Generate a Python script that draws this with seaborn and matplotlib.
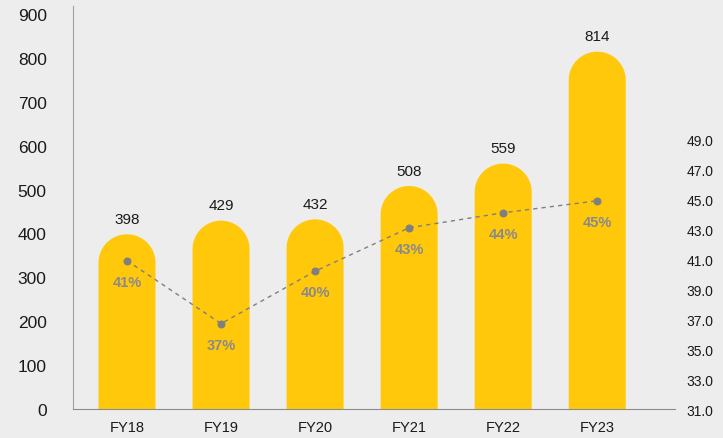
import numpy as np
import pandas as pd
import matplotlib.pyplot as plt
import seaborn as sns
from matplotlib.patches import Polygon

years = ["FY18", "FY19", "FY20", "FY21", "FY22", "FY23"]
revenue = [398, 429, 432, 508, 559, 814]
margin = [40.9, 36.7, 40.2, 43.1, 44.1, 44.9]
margin_labels = ["41%", "37%", "40%", "43%", "44%", "45%"]

df = pd.DataFrame({"year": years, "revenue": revenue, "margin": margin})

sns.set_style("white")
plt.rcParams['font.family'] = ['Liberation Sans', 'DejaVu Sans']

bg = "#EDEDED"
bar_color = "#FFC80B"
grey = "#8A8A8A"

fig = plt.figure(figsize=(7.23, 4.39), dpi=100, facecolor=bg)
ax = fig.add_axes([0.101, 0.066, 0.833, 0.918])
ax.set_facecolor(bg)

sns.barplot(x="year", y="revenue", data=df, ax=ax, color=bar_color,
            width=0.606, saturation=1)

ax.set_xlim(-0.574, 5.83)
ax.set_ylim(0, 918)
ax.set_yticks(range(0, 901, 100))
ax.set_xlabel("")
ax.set_ylabel("")
ax.tick_params(axis='y', length=0, pad=19, labelsize=12.5, colors="#1a1a1a")
ax.tick_params(axis='x', length=0, pad=8, labelsize=10.5, colors="#1a1a1a")
for s in ["top", "right"]:
    ax.spines[s].set_visible(False)
ax.spines["left"].set_color("#A0A0A0")
ax.spines["bottom"].set_color("#8C8C8C")

# rounded tops: redraw each bar as one shape with a half circle on top
fig.canvas.draw()
bbox = ax.get_window_extent()
px_x = bbox.width / (ax.get_xlim()[1] - ax.get_xlim()[0])
px_y = bbox.height / (ax.get_ylim()[1] - ax.get_ylim()[0])
t = np.linspace(np.pi, 0, 60)
for p in list(ax.patches):
    x, w, h = p.get_x(), p.get_width(), p.get_height()
    r_x = w / 2
    r_y = r_x * px_x / px_y
    cx, cy = x + r_x, h - r_y
    pts = [(x, 0)] + list(zip(cx + r_x * np.cos(t), cy + r_y * np.sin(t))) + [(x + w, 0)]
    p.set_visible(False)
    ax.add_patch(Polygon(pts, closed=True, facecolor=bar_color,
                         edgecolor="none"))
    ax.annotate(f"{h:.0f}", (cx, h), xytext=(0, 6),
                textcoords="offset points", ha="center", va="bottom",
                fontsize=11, color="#1a1a1a")

ax2 = ax.twinx()
sns.pointplot(x="year", y="margin", data=df, ax=ax2, color="#7F7F7F",
              linestyles="--", markers="o", markersize=5, linewidth=1)
for ln in ax2.lines:
    ln.set_dashes((3, 3))
ax2.set_xlim(-0.574, 5.83)
ax2.set_ylim(31, 57.9)
ax2.set_yticks(range(31, 50, 2))
ax2.set_yticklabels([f"{v:.1f}" for v in range(31, 50, 2)])
ax2.set_ylabel("")
ax2.set_xlabel("")
ax2.tick_params(axis='y', length=0, pad=8, labelsize=10, colors="#1a1a1a")
for s in ["top", "right", "left", "bottom"]:
    ax2.spines[s].set_visible(False)

for i, (v, lab) in enumerate(zip(margin, margin_labels)):
    ax2.annotate(lab, (i, v), xytext=(0, -10), textcoords="offset points",
                 ha="center", va="top", fontsize=10.5, color=grey,
                 fontweight="bold")

fig.savefig("out.png", dpi=100, facecolor=bg)
